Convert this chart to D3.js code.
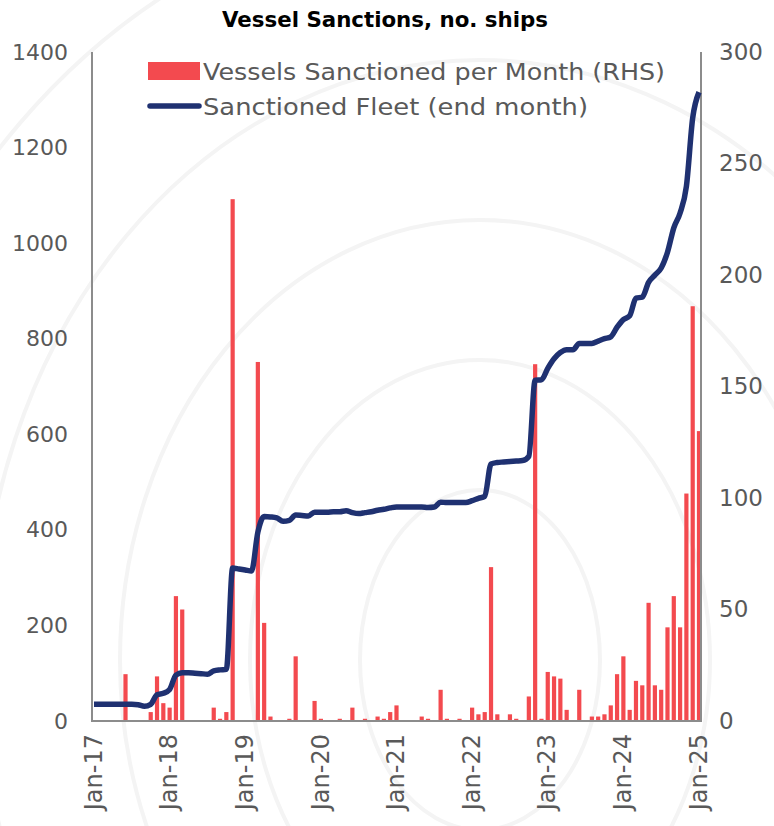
<!DOCTYPE html>
<html>
<head>
<meta charset="utf-8">
<script src="https://cdn.jsdelivr.net/npm/d3@7"></script>
<style>
  body { margin: 0; background: #fff; }
  svg { display: block; }
</style>
</head>
<body>
<svg id="chart" width="774" height="826"></svg>
<script>
// months, Jan-17 .. Jan-25
var months = [
  "Jan-17","Feb-17","Mar-17","Apr-17","May-17","Jun-17","Jul-17","Aug-17","Sep-17","Oct-17","Nov-17","Dec-17",
  "Jan-18","Feb-18","Mar-18","Apr-18","May-18","Jun-18","Jul-18","Aug-18","Sep-18","Oct-18","Nov-18","Dec-18",
  "Jan-19","Feb-19","Mar-19","Apr-19","May-19","Jun-19","Jul-19","Aug-19","Sep-19","Oct-19","Nov-19","Dec-19",
  "Jan-20","Feb-20","Mar-20","Apr-20","May-20","Jun-20","Jul-20","Aug-20","Sep-20","Oct-20","Nov-20","Dec-20",
  "Jan-21","Feb-21","Mar-21","Apr-21","May-21","Jun-21","Jul-21","Aug-21","Sep-21","Oct-21","Nov-21","Dec-21",
  "Jan-22","Feb-22","Mar-22","Apr-22","May-22","Jun-22","Jul-22","Aug-22","Sep-22","Oct-22","Nov-22","Dec-22",
  "Jan-23","Feb-23","Mar-23","Apr-23","May-23","Jun-23","Jul-23","Aug-23","Sep-23","Oct-23","Nov-23","Dec-23",
  "Jan-24","Feb-24","Mar-24","Apr-24","May-24","Jun-24","Jul-24","Aug-24","Sep-24","Oct-24","Nov-24","Dec-24",
  "Jan-25"
]

// vessels sanctioned per month (RHS)
var perMonth = [
  0,0,0,0,0,21,0,0,0,4,20,8,
  6,56,50,0,0,0,0,6,1,4,234,0,
  0,0,161,44,2,0,0,1,29,0,0,9,
  1,0,0,1,0,6,0,1,0,2,1,4,
  7,0,0,0,2,1,0,14,1,0,1,0,
  6,3,4,69,3,0,3,1,0,11,160,1,
  22,20,19,5,0,14,0,2,2,3,7,21,
  29,5,18,16,53,16,14,42,56,42,102,186,
  130
]

// sanctioned fleet, end of month (LHS)
var fleet = [
  35,35,35,35,35,35,35,34,31,35,55,58,
  66,96,101,101,100,99,98,105,107,108,320,318,
  316,314,395,428,427,425,418,420,431,430,429,437,
  437,437,438,438,440,436,434,436,438,441,443,446,
  448,448,448,448,448,447,448,458,457,457,457,457,
  461,466,470,538,541,542,543,544,545,554,713,714,
  738,758,771,777,777,790,790,790,795,800,804,824,
  840,848,885,887,918,933,948,981,1032,1063,1119,1262,
  1316
]

var leftTicks = [0, 200, 400, 600, 800, 1000, 1200, 1400]
var rightTicks = [0, 50, 100, 150, 200, 250, 300]
var xTickLabels = ["Jan-17","Jan-18","Jan-19","Jan-20","Jan-21","Jan-22","Jan-23","Jan-24","Jan-25"]

var seriesNames = ["Vessels Sanctioned per Month (RHS)", "Sanctioned Fleet (end month)"]

draw_chart()

function draw_chart(){
  var svg = d3.select("#chart")
  var font = "'DejaVu Sans', sans-serif"
  var grey = "#595959"
  var red = "#F34A4F"
  var navy = "#1F3171"

  var plot = {left: 92, right: 701, top: 52, bottom: 721}

  // faint background watermark curves
  var bg = svg.append("g").attr("fill", "none").attr("stroke", "#f4f4f4").attr("stroke-width", 4)
  var rings = [[120, 170], [230, 300], [360, 440], [500, 600], [650, 760]]
  rings.forEach(function(r){
    bg.append("ellipse").attr("cx", 480).attr("cy", 660).attr("rx", r[0]).attr("ry", r[1])
  })

  var x = d3.scaleLinear().domain([0, months.length - 1]).range([94, 699])
  var yL = d3.scaleLinear().domain([0, 1400]).range([plot.bottom, plot.top])
  var yR = d3.scaleLinear().domain([0, 300]).range([plot.bottom, plot.top])
  var barW = 4.2

  // bars
  var barData = perMonth
    .map(function(v, i){ return {i: i, v: v} })
    .filter(function(d){ return d.v > 0 })

  svg.append("g")
    .selectAll("rect")
    .data(barData)
    .enter()
    .append("rect")
      .attr("x", function(d){ return x(d.i) - barW / 2 })
      .attr("y", function(d){ return yR(d.v) })
      .attr("width", barW)
      .attr("height", function(d){ return plot.bottom - yR(d.v) })
      .attr("fill", red)

  // axes lines
  var axisG = svg.append("g").attr("stroke", "#8c8c8c").attr("stroke-width", 2)
  axisG.append("line").attr("x1", plot.left).attr("x2", plot.left).attr("y1", plot.top).attr("y2", plot.bottom + 1)
  axisG.append("line").attr("x1", plot.right).attr("x2", plot.right).attr("y1", plot.top).attr("y2", plot.bottom + 1)
  axisG.append("line").attr("x1", plot.left - 1).attr("x2", plot.right + 1).attr("y1", plot.bottom).attr("y2", plot.bottom)

  // left axis
  var la = svg.append("g")
    .attr("transform", "translate(" + plot.left + ",0)")
    .call(d3.axisLeft(yL).tickValues(leftTicks).tickFormat(d3.format("d")).tickSize(0).tickPadding(24))
  la.select(".domain").remove()
  la.selectAll("text").attr("font-family", font).attr("font-size", 22).attr("fill", grey)

  // right axis
  var ra = svg.append("g")
    .attr("transform", "translate(" + plot.right + ",0)")
    .call(d3.axisRight(yR).tickValues(rightTicks).tickFormat(d3.format("d")).tickSize(0).tickPadding(18))
  ra.select(".domain").remove()
  ra.selectAll("text").attr("font-family", font).attr("font-size", 23).attr("fill", grey)

  // bottom axis, rotated labels
  svg.append("g")
    .selectAll("text")
    .data(xTickLabels)
    .enter()
    .append("text")
      .attr("transform", function(d){ return "translate(" + (x(months.indexOf(d)) - 1) + "," + (plot.bottom + 13) + ") rotate(-90)" })
      .attr("text-anchor", "end")
      .attr("dy", "0.36em")
      .attr("font-family", font)
      .attr("font-size", 24)
      .attr("fill", grey)
      .text(function(d){ return d })

  // fleet line
  var line = d3.line()
    .curve(d3.curveMonotoneX)
    .x(function(d, i){ return x(i) })
    .y(function(d){ return yL(d) })
  svg.append("path")
    .datum(fleet)
    .attr("fill", "none")
    .attr("stroke", navy)
    .attr("stroke-width", 5.5)
    .attr("stroke-linejoin", "round")
    .attr("d", line)

  // title
  svg.append("text")
    .attr("x", 222).attr("y", 27)
    .attr("font-family", font)
    .attr("font-weight", "bold")
    .attr("font-size", 21)
    .attr("textLength", 326)
    .attr("lengthAdjust", "spacingAndGlyphs")
    .attr("fill", "#000")
    .text("Vessel Sanctions, no. ships")

  // legend
  var lg = svg.append("g")
  lg.append("rect").attr("x", 148).attr("y", 62).attr("width", 52).attr("height", 18).attr("fill", red)
  lg.append("line").attr("x1", 150).attr("x2", 199).attr("y1", 106).attr("y2", 106)
    .attr("stroke", navy).attr("stroke-width", 5.5).attr("stroke-linecap", "round")
  var legendW = [462, 385]
  lg.selectAll("text")
    .data(seriesNames)
    .enter()
    .append("text")
      .attr("x", 203)
      .attr("y", function(d, i){ return 80 + i * 35 })
      .attr("font-family", font)
      .attr("font-size", 23)
      .attr("textLength", function(d, i){ return legendW[i] })
      .attr("lengthAdjust", "spacingAndGlyphs")
      .attr("fill", grey)
      .text(function(d){ return d })
}
</script>
</body>
</html>
